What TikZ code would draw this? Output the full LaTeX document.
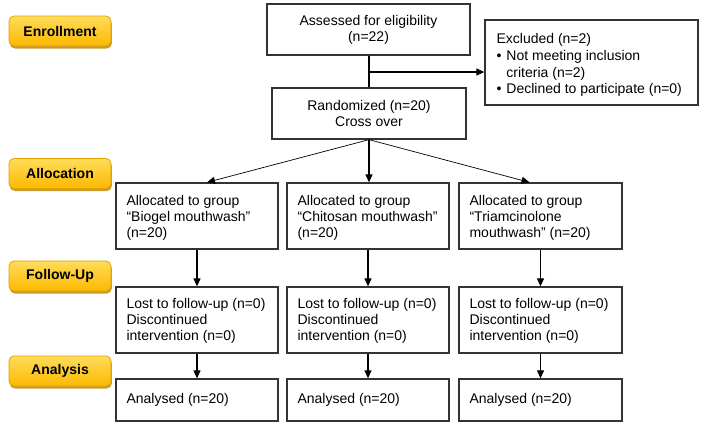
\documentclass[tikz,border=0pt]{standalone}
\usepackage{fontspec}
\setmainfont{Liberation Sans}
\usetikzlibrary{arrows.meta,shadows}
\definecolor{boxline}{HTML}{333333}
\definecolor{labtop}{HTML}{FFDC5A}
\definecolor{labbot}{HTML}{FCB900}
\definecolor{labline}{HTML}{E3A200}
\definecolor{labshadow}{HTML}{B88400}
\tikzset{
  flowbox/.style={draw=boxline, line width=1.3pt, rectangle, inner sep=0pt,
    font=\fontsize{14}{16}\selectfont},
  boxtext/.style={inner sep=0pt, align=left, anchor=west, font=\fontsize{14}{16}\selectfont},
  stagelabel/.style={rectangle, rounded corners=5pt, draw=labline, line width=0.8pt,
    top color=labtop, bottom color=labbot, minimum width=102pt, minimum height=30pt,
    font=\fontsize{14}{16}\selectfont\bfseries,
    drop shadow={shadow xshift=0.8pt, shadow yshift=-2.5pt, fill=labshadow, opacity=0.8}},
  arr/.style={-{Triangle[length=8pt,width=7pt]}, line width=1.2pt, draw=black},
  thinarr/.style={-{Triangle[length=8pt,width=7pt]}, line width=0.7pt, draw=black}
}
\begin{document}
\begin{tikzpicture}[x=1pt,y=-1pt]
\useasboundingbox (0,0) rectangle (708,424);
% stage labels
\node[stagelabel] (lenr) at (60,31) {Enrollment};
\node[stagelabel] (lall) at (60,173.5) {Allocation};
\node[stagelabel] (lfol) at (60,276) {Follow-Up};
\node[stagelabel] (lana) at (60,371) {Analysis};
% enrollment
\node[flowbox, minimum width=203pt, minimum height=51pt, align=center] (assess) at (368.5,29.5)
  {Assessed for eligibility\\(n=22)};
\node[flowbox, minimum width=213pt, minimum height=85pt] (excl) at (591.5,62.5) {};
\node[boxtext] (excltxt) at ([xshift=12pt,yshift=-3pt]excl.west)
  {\renewcommand{\arraystretch}{1.04}%
   \begin{tabular}{@{}l@{\hspace{5pt}}l@{}}
   \multicolumn{2}{@{}l}{Excluded (n=2)}\\
   \textbullet & Not meeting inclusion\\
   & criteria (n=2)\\
   \textbullet & Declined to participate (n=0)
   \end{tabular}};
\node[flowbox, minimum width=194pt, minimum height=51pt, align=center] (rand) at (369,113.5)
  {Randomized (n=20)\\Cross over};
% allocation
\node[flowbox, minimum width=162pt, minimum height=66pt] (a1) at (197,216) {};
\node[flowbox, minimum width=162pt, minimum height=66pt] (a2) at (368,216) {};
\node[flowbox, minimum width=163pt, minimum height=66pt] (a3) at (540.5,216) {};
\node[boxtext] (a1t) at ([xshift=11pt,yshift=-2pt]a1.west)
  {Allocated to group\\``Biogel mouthwash''\\(n=20)};
\node[boxtext] (a2t) at ([xshift=11pt,yshift=-2pt]a2.west)
  {Allocated to group\\``Chitosan mouthwash''\\(n=20)};
\node[boxtext] (a3t) at ([xshift=11pt,yshift=-2pt]a3.west)
  {Allocated to group\\``Triamcinolone\\mouthwash'' (n=20)};
% follow-up
\node[flowbox, minimum width=162pt, minimum height=66pt] (f1) at (197,320) {};
\node[flowbox, minimum width=162pt, minimum height=66pt] (f2) at (368,320) {};
\node[flowbox, minimum width=163pt, minimum height=66pt] (f3) at (540.5,320) {};
\node[boxtext] (f1t) at ([xshift=11pt,yshift=-1pt]f1.west)
  {Lost to follow-up (n=0)\\Discontinued\\intervention (n=0)};
\node[boxtext] (f2t) at ([xshift=11pt,yshift=-1pt]f2.west)
  {Lost to follow-up (n=0)\\Discontinued\\intervention (n=0)};
\node[boxtext] (f3t) at ([xshift=11pt,yshift=-1pt]f3.west)
  {Lost to follow-up (n=0)\\Discontinued\\intervention (n=0)};
% analysis
\node[flowbox, minimum width=162pt, minimum height=42pt] (n1) at (197,400) {};
\node[flowbox, minimum width=162pt, minimum height=42pt] (n2) at (368,400) {};
\node[flowbox, minimum width=163pt, minimum height=42pt] (n3) at (540.5,400) {};
\node[boxtext] (n1t) at ([xshift=11pt]n1.west) {Analysed (n=20)};
\node[boxtext] (n2t) at ([xshift=11pt]n2.west) {Analysed (n=20)};
\node[boxtext] (n3t) at ([xshift=11pt]n3.west) {Analysed (n=20)};
% connectors
\draw[line width=1.2pt] (assess.south -| rand.north) -- (rand.north);
\coordinate (j) at (368,72);
\draw[arr] (j) -- (j -| excl.west);
\draw[thinarr] (rand.south) -- ([xshift=10pt]a1.north);
\draw[arr] (rand.south) -- (rand.south |- a2.north);
\draw[thinarr] (rand.south) -- ([xshift=-11pt]a3.north);
\draw[arr] (a1) -- (f1);
\draw[arr] (a2) -- (f2);
\draw[arr] (a3) -- (f3);
\draw[arr] (f1) -- (n1);
\draw[arr] (f2) -- (n2);
\draw[arr] (f3) -- (n3);
\end{tikzpicture}
\end{document}
